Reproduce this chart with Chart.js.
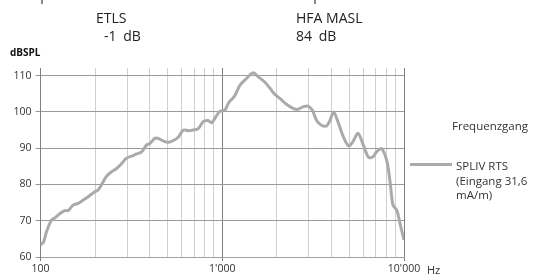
<!DOCTYPE html>
<html>
<head>
<meta charset="utf-8">
<script src="https://cdn.jsdelivr.net/npm/chart.js@4/dist/chart.umd.min.js"></script>
<style>
	body { margin: 0; background: #fff; font-family: "Open Sans", sans-serif; color: #333; }
	#wrap { position: relative; width: 539px; height: 278px; overflow: hidden; }
	#myChart { position: absolute; left: 0; top: 0; }
	.txt { position: absolute; white-space: nowrap; line-height: 1; }
	.head { font-size: 14px; color: #222; }
	.mark { position: absolute; top: 0; width: 2px; height: 4px; background: #888; }
	#legendLine { position: absolute; left: 410px; top: 163px; width: 42px; height: 3px; background: #aaa; }
</style>
</head>
<body>
<div id="wrap">
	<canvas id="myChart" width="539" height="278"></canvas>
	<div class="mark" style="left:41px"></div>
	<div class="mark" style="left:314px"></div>
	<div class="txt head" style="left:96px; top:11px">ETLS</div>
	<div class="txt head" style="left:104px; top:29px; word-spacing:3px">-1 dB</div>
	<div class="txt head" style="left:296px; top:11px">HFA MASL</div>
	<div class="txt head" style="left:296px; top:29px; word-spacing:3px">84 dB</div>
	<div class="txt" style="left:10px; top:47px; font-size:10px; font-weight:bold; color:#111">dBSPL</div>
	<div class="txt" style="left:452px; top:120px; font-size:11.5px">Frequenzgang</div>
	<div id="legendLine"></div>
	<div class="txt" style="left:456px; top:159px; font-size:11.5px; line-height:14.5px">SPLIV RTS<br>(Eingang 31,6<br>mA/m)</div>
	<div class="txt" style="left:427px; top:264px; font-size:11px">Hz</div>
</div>
<script>
// frequency response
const freqs = [100, 104, 108, 115, 120, 128, 136, 142, 151, 161, 172, 183, 199, 208, 221, 231, 246, 262, 280, 292,
	304, 318, 338, 360, 384, 400, 426, 444, 473, 505, 538, 574, 611, 652, 695, 738, 786, 836, 873, 934,
	971, 1033, 1084, 1170, 1253, 1358, 1481, 1575, 1708, 1832, 1951, 2077, 2255, 2451, 2610, 2780, 2960, 3128, 3300, 3500,
	3740, 3920, 4100, 4330, 4640, 4970, 5240, 5580, 5970, 6370, 6740, 7060, 7530, 8060, 8400, 8700, 9130, 9550, 10000]
const levels = [63.3, 64.2, 67.0, 70.2, 70.8, 72.0, 72.8, 72.8, 74.3, 74.8, 75.7, 76.6, 78.0, 78.5, 80.7, 82.3, 83.5, 84.4, 85.8, 86.9,
	87.5, 87.8, 88.4, 89.0, 90.9, 91.3, 92.7, 92.7, 92.0, 91.6, 92.1, 93.1, 95.0, 94.8, 95.0, 95.4, 97.3, 97.6, 97.0, 99.1,
	100.2, 100.5, 102.5, 104.4, 107.4, 109.2, 110.8, 109.7, 108.3, 106.5, 104.8, 103.7, 102.1, 101.0, 100.7, 101.4, 101.6, 100.5, 97.7, 96.4,
	96.1, 97.7, 100.0, 97.3, 93.1, 90.6, 91.8, 94.1, 90.9, 87.5, 87.6, 89.0, 89.9, 86.3, 80.3, 74.3, 72.9, 68.8, 64.7]

const xGrid = [100, 200, 300, 400, 500, 600, 700, 800, 900, 1000, 2000, 3000, 4000, 5000, 6000, 7000, 8000, 9000, 10000]
const xLabels = { 100: "100", 1000: "1'000", 10000: "10'000" }
const yTicks = [60, 70, 80, 90, 100, 110]
const yMin = 60
const yMax = 112.1 // grid runs a bit above the 110 line

const lineColor = '#aaaaaa'

function isDecade(v) {
	return v === 100 || v === 1000 || v === 10000
}

var points = []
for (var i = 0; i < freqs.length; i++) {
	points.push({ x: freqs[i], y: levels[i] })
}

var ctx = document.getElementById('myChart')
var chart = new Chart(ctx, {
	type: 'line',
	data: {
		datasets: [{
			label: 'SPLIV RTS (Eingang 31,6 mA/m)',
			data: points,
			borderColor: lineColor,
			borderWidth: 3,
			pointRadius: 0,
			tension: 0.3,
			fill: false
		}]
	},
	options: {
		responsive: false,
		animation: false,
		devicePixelRatio: 1,
		layout: { padding: { top: 68, right: 135, left: 0, bottom: 0 } },
		plugins: { legend: { display: false }, tooltip: { enabled: false } },
		scales: {
			x: {
				type: 'logarithmic',
				min: 100,
				max: 10000,
				afterBuildTicks: function (scale) {
					scale.ticks = xGrid.map(function (v) { return { value: v } })
				},
				afterFit: function (scale) { scale.height = 21 },
				ticks: {
					autoSkip: false,
					maxRotation: 0,
					padding: 2,
					color: '#333',
					font: { family: 'Open Sans', size: 10.5 },
					callback: function (v) { return xLabels[v] || '' }
				},
				grid: {
					tickLength: 4,
					color: function (c) { return isDecade(c.tick && c.tick.value) ? '#808080' : '#cfcfcf' },
					tickColor: function (c) { return isDecade(c.tick && c.tick.value) ? '#808080' : 'rgba(0,0,0,0)' }
				},
				border: { color: '#a0a0a0' }
			},
			y: {
				min: yMin,
				max: yMax,
				afterBuildTicks: function (scale) {
					scale.ticks = yTicks.map(function (v) { return { value: v } })
				},
				afterFit: function (scale) { scale.width = 40.5 },
				ticks: {
					padding: 4,
					color: '#333',
					font: { family: 'Open Sans', size: 10.5 }
				},
				grid: { color: '#9a9a9a', tickLength: 5, tickColor: '#9a9a9a' },
				border: { color: '#808080' }
			}
		}
	}
})
</script>
</body>
</html>
